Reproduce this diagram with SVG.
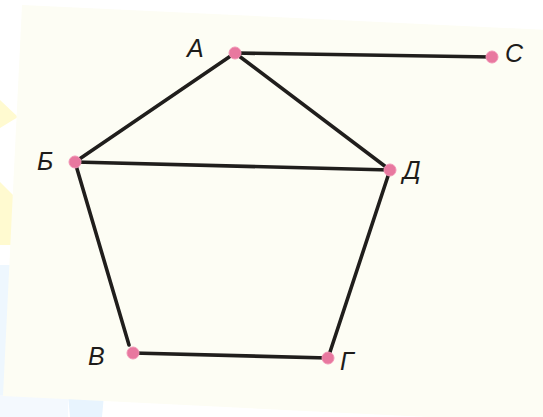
<svg xmlns="http://www.w3.org/2000/svg" width="543" height="417" viewBox="0 0 543 417">
  <style>
    .edge { stroke: #201e1c; stroke-width: 3.6; stroke-linecap: round; fill: none; }
    .dot { fill: #e8789f; stroke: #f294b5; stroke-width: 1; }
    .lbl { font-family: "Liberation Sans", Arial, sans-serif; font-style: italic; font-size: 25px; fill: #1e1c1a; }
  </style>
  <rect x="0" y="0" width="543" height="417" fill="#ffffff"/>
  <polygon points="0,100 18,117 0,128" fill="#fffad0"/>
  <polygon points="0,182 16,198 16,245 0,245" fill="#fffad0"/>
  <polygon points="0,265 14,265 14,417 0,417" fill="#eef7fe"/>
  <polygon points="0,395 68,395 68,417 0,417" fill="#f4f9fe"/>
  <polygon points="68,395 104,395 102,417 70,417" fill="#e8f4fe"/>
  <polygon points="22,5 570,31 550,423 3,396" fill="#fdfdf4"/>

  <g id="connectors">
    <line class="edge" x1="235" y1="53" x2="492" y2="57"/>
    <line class="edge" x1="235" y1="53" x2="75" y2="162"/>
    <line class="edge" x1="235" y1="53" x2="390" y2="170"/>
    <line class="edge" x1="75" y1="162" x2="390" y2="170"/>
    <line class="edge" x1="75" y1="162" x2="129" y2="345"/>
    <line class="edge" x1="388" y1="176" x2="330" y2="352"/>
    <line class="edge" x1="133" y1="353" x2="328" y2="358"/>
  </g>

  <g id="node-A"><circle class="dot" cx="235" cy="53" r="6"/><text class="lbl" x="187" y="57">А</text></g>
  <g id="node-C"><circle class="dot" cx="492" cy="57" r="6"/><text class="lbl" x="505" y="62">С</text></g>
  <g id="node-B"><circle class="dot" cx="75" cy="162" r="6"/><text class="lbl" x="37" y="170">Б</text></g>
  <g id="node-D"><circle class="dot" cx="390" cy="170" r="6"/><text class="lbl" x="403" y="179">Д</text></g>
  <g id="node-V"><circle class="dot" cx="133" cy="353" r="6"/><text class="lbl" x="88" y="365">В</text></g>
  <g id="node-G"><circle class="dot" cx="328" cy="358" r="6"/><text class="lbl" x="340" y="370">Г</text></g>
</svg>
